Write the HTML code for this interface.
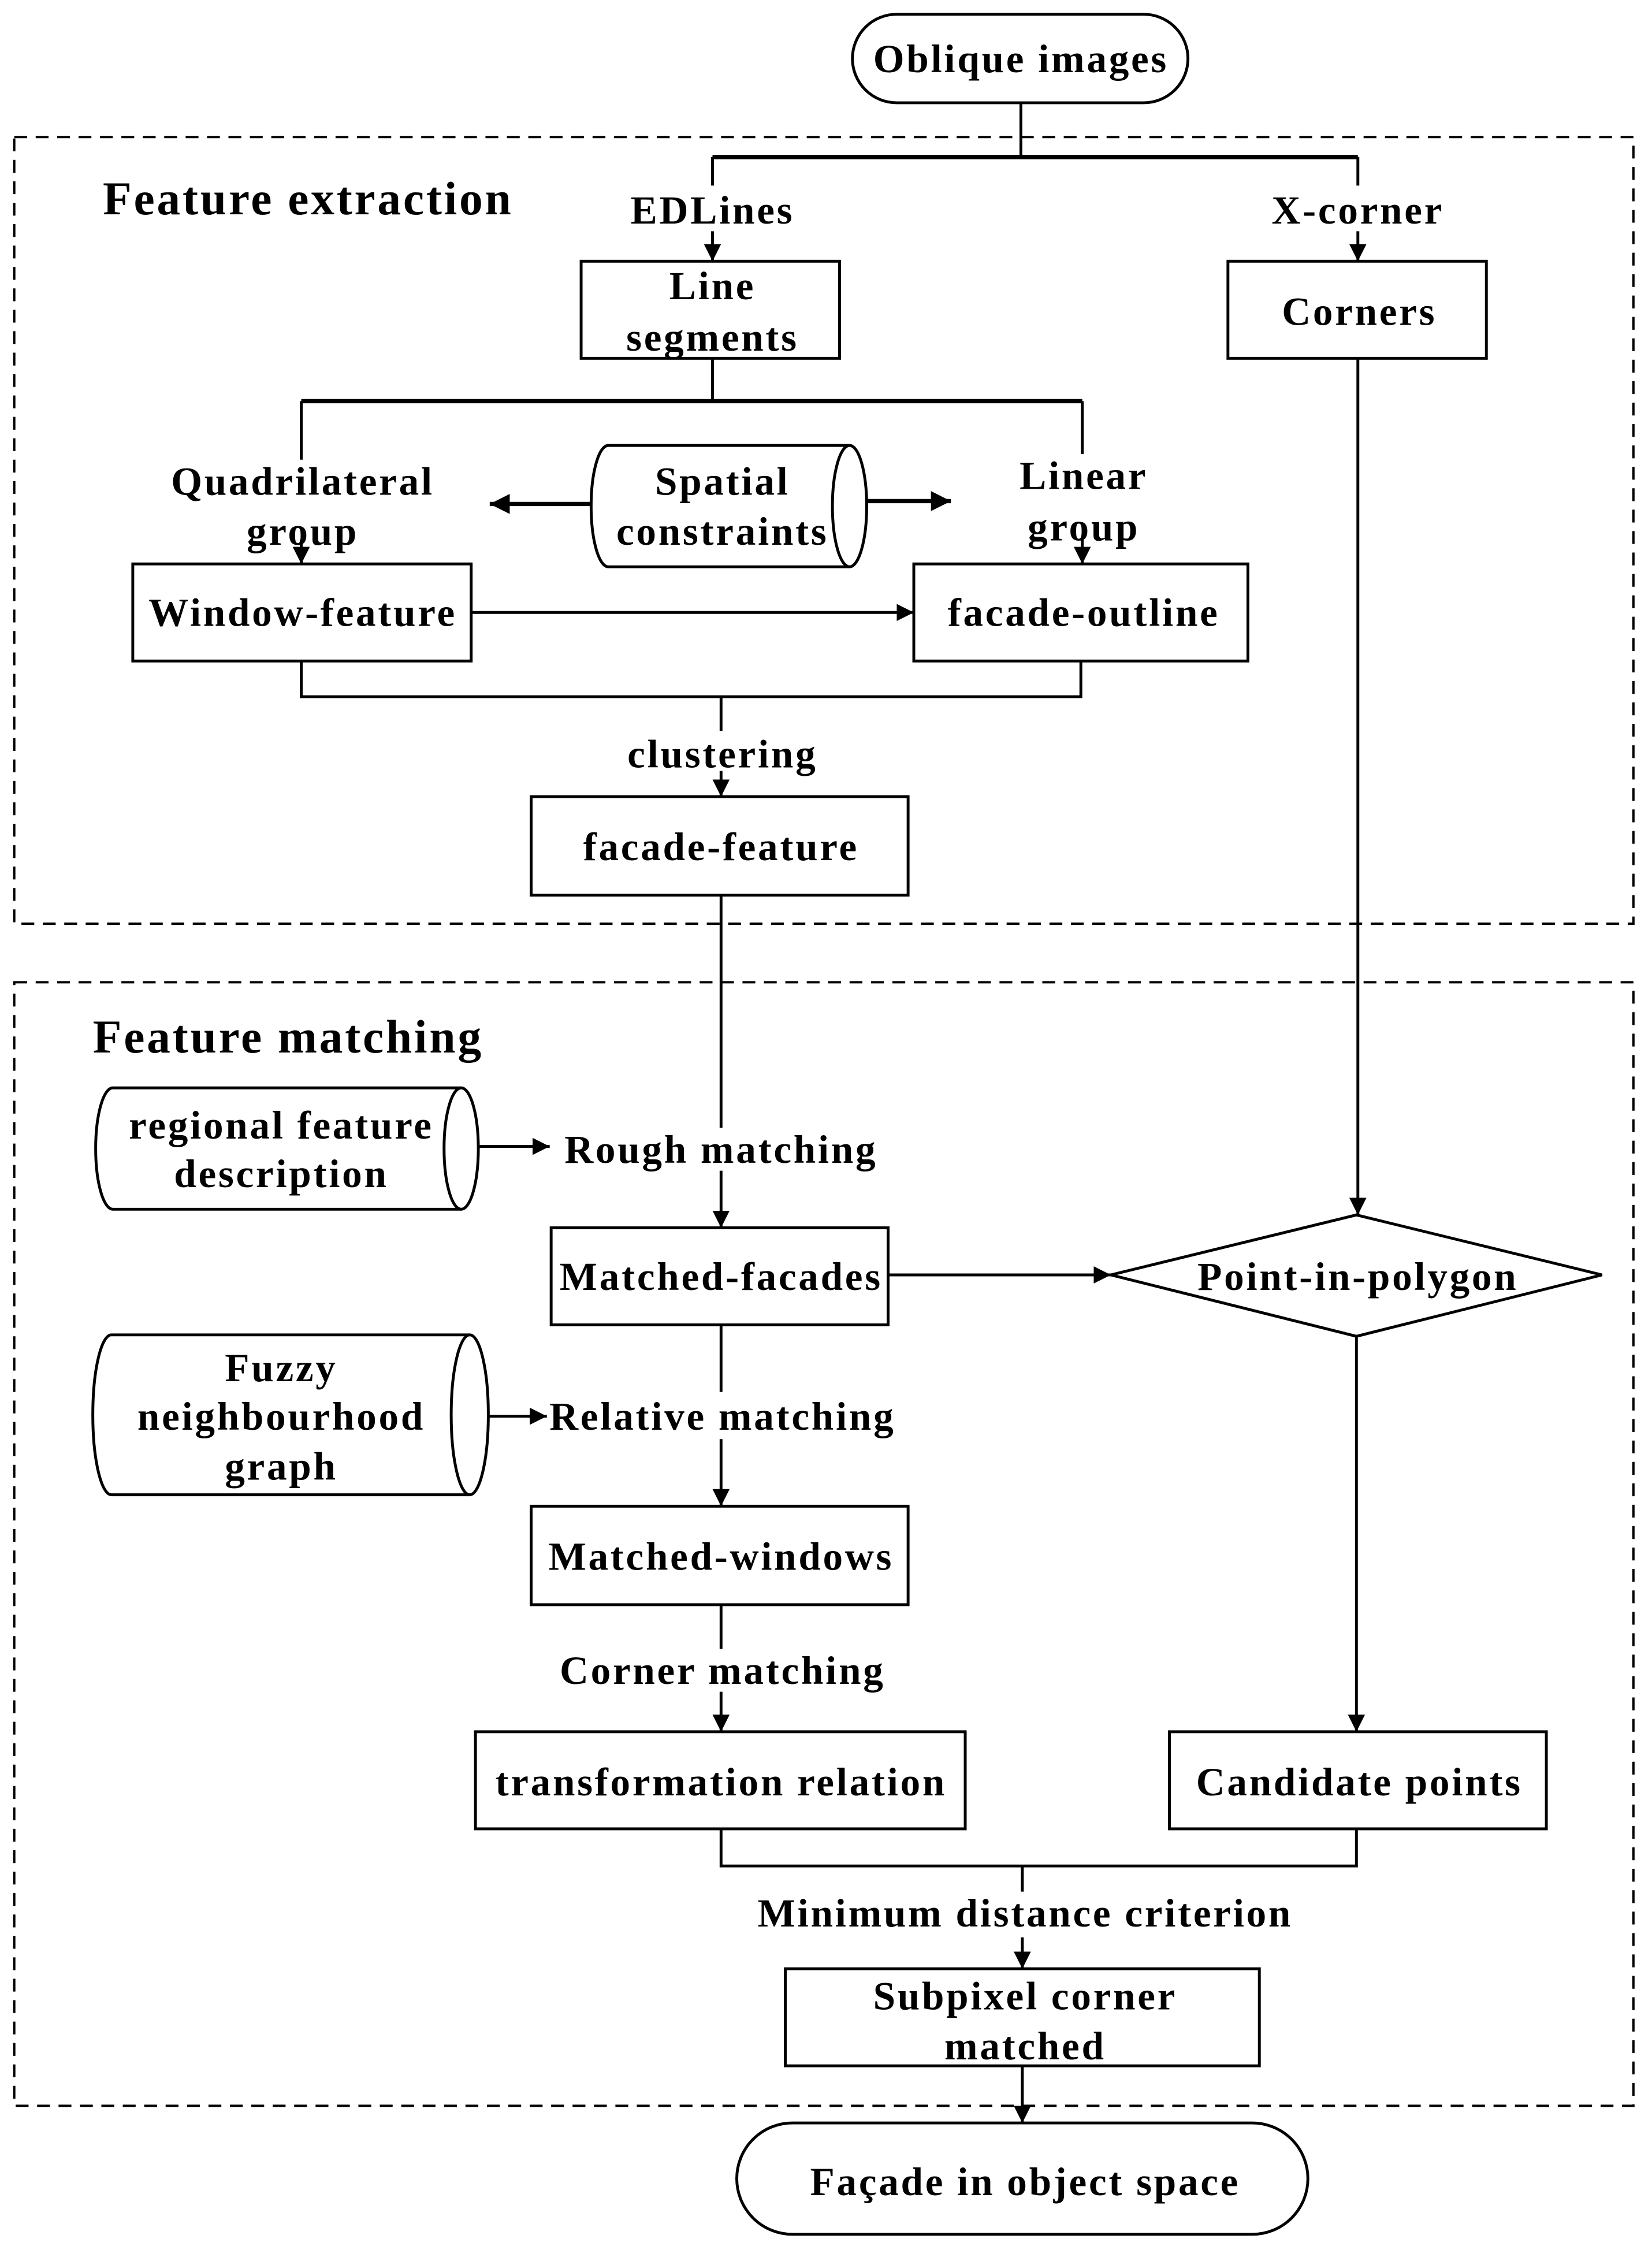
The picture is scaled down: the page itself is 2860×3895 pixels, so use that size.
<!DOCTYPE html>
<html><head><meta charset="utf-8"><style>
html,body{margin:0;padding:0;background:#fff;}
svg{display:block;}
text{font-family:"Liberation Serif",serif;font-weight:bold;font-size:28px;letter-spacing:1.5px;fill:#000;text-anchor:middle;dominant-baseline:central;}
</style></head><body>
<svg width="2860" height="3895" viewBox="0 0 1157 1576" preserveAspectRatio="none" xmlns="http://www.w3.org/2000/svg">
<defs>
<marker id="a" viewBox="0 0 10 10" refX="10" refY="5" markerWidth="12" markerHeight="12" markerUnits="userSpaceOnUse" orient="auto"><path d="M0,0 L10,5 L0,10 z" fill="#000"/></marker>
<marker id="b" viewBox="0 0 10 10" refX="10" refY="5" markerWidth="14" markerHeight="14" markerUnits="userSpaceOnUse" orient="auto"><path d="M0,0 L10,5 L0,10 z" fill="#000"/></marker>
</defs>
<g fill="none" stroke="#000" stroke-width="2">
<rect x="10" y="96" width="1134" height="551" stroke-dasharray="9,6" stroke-width="1.6"/>
<rect x="10" y="688" width="1134" height="787" stroke-dasharray="9,6" stroke-width="1.6"/>
<rect x="597" y="10" width="235" height="62" rx="31"/>
<rect x="516" y="1487" width="400" height="78" rx="39"/>
<rect x="407" y="183" width="181" height="68"/>
<rect x="860" y="183" width="181" height="68"/>
<rect x="93" y="395" width="237" height="68"/>
<rect x="640" y="395" width="234" height="68"/>
<rect x="372" y="558" width="264" height="69"/>
<rect x="386" y="860" width="236" height="68"/>
<rect x="372" y="1055" width="264" height="69"/>
<rect x="333" y="1213" width="343" height="68"/>
<rect x="819" y="1213" width="264" height="68"/>
<rect x="550" y="1379" width="332" height="68"/>
<path d="M778,893 L950,851 L1122,893 L950,936 Z"/>
<path d="M426,312 L595,312 A12,42.5 0 0 1 595,397 L426,397 A12,42.5 0 0 1 426,312 Z"/>
<path d="M595,312 A12,42.5 0 0 0 595,397"/>
<path d="M79,762 L323,762 A12,42.5 0 0 1 323,847 L79,847 A12,42.5 0 0 1 79,762 Z"/>
<path d="M323,762 A12,42.5 0 0 0 323,847"/>
<path d="M78,935 L329,935 A13,56 0 0 1 329,1047 L78,1047 A13,56 0 0 1 78,935 Z"/>
<path d="M329,935 A13,56 0 0 0 329,1047"/>
<path d="M715,72 V110"/>
<path d="M499,110 H951" stroke-width="3"/>
<path d="M499,110 V130 M951,110 V130"/>
<path d="M499,162 V183" marker-end="url(#a)"/>
<path d="M951,162 V183" marker-end="url(#a)"/>
<path d="M499,251 V281"/>
<path d="M211,281 H758" stroke-width="3"/>
<path d="M211,281 V322 M758,281 V318"/>
<path d="M211,378 V395" marker-end="url(#a)"/>
<path d="M758,378 V395" marker-end="url(#a)"/>
<path d="M414,353 H343" stroke-width="3" marker-end="url(#b)"/>
<path d="M607,351 H666" stroke-width="3" marker-end="url(#b)"/>
<path d="M330,429 H640" marker-end="url(#a)"/>
<path d="M211,463 V488 H757 V463"/>
<path d="M505,488 V512"/>
<path d="M505,540 V558" marker-end="url(#a)"/>
<path d="M951,251 V851" marker-end="url(#a)"/>
<path d="M505,627 V790"/>
<path d="M505,820 V860" marker-end="url(#a)"/>
<path d="M335,803 H385" marker-end="url(#a)"/>
<path d="M622,893 H778" marker-end="url(#a)"/>
<path d="M505,928 V975"/>
<path d="M505,1008 V1055" marker-end="url(#a)"/>
<path d="M342,992 H383" marker-end="url(#a)"/>
<path d="M505,1124 V1155"/>
<path d="M505,1185 V1213" marker-end="url(#a)"/>
<path d="M950,936 V1213" marker-end="url(#a)"/>
<path d="M505,1281 V1307 H950 V1281"/>
<path d="M716,1307 V1325"/>
<path d="M716,1357 V1379" marker-end="url(#a)"/>
<path d="M716,1447 V1487" marker-end="url(#a)"/>
</g>
<text x="715" y="41">Oblique images</text>
<text x="72" y="139" style="text-anchor:start;font-size:33px">Feature extraction</text>
<text x="65" y="726" style="text-anchor:start;font-size:33px">Feature matching</text>
<text x="499" y="147">EDLines</text>
<text x="951" y="147">X-corner</text>
<text x="499" y="200">Line</text>
<text x="499" y="236">segments</text>
<text x="952" y="218">Corners</text>
<text x="212" y="337">Quadrilateral</text>
<text x="212" y="372">group</text>
<text x="759" y="333">Linear</text>
<text x="759" y="369">group</text>
<text x="506" y="337">Spatial</text>
<text x="506" y="372">constraints</text>
<text x="212" y="429">Window-feature</text>
<text x="759" y="429">facade-outline</text>
<text x="506" y="528">clustering</text>
<text x="505" y="593">facade-feature</text>
<text x="197" y="788">regional feature</text>
<text x="197" y="822">description</text>
<text x="505" y="805">Rough matching</text>
<text x="505" y="894">Matched-facades</text>
<text x="951" y="894">Point-in-polygon</text>
<text x="197" y="958">Fuzzy</text>
<text x="197" y="992">neighbourhood</text>
<text x="197" y="1027">graph</text>
<text x="506" y="992">Relative matching</text>
<text x="505" y="1090">Matched-windows</text>
<text x="506" y="1170">Corner matching</text>
<text x="505" y="1248">transformation relation</text>
<text x="952" y="1248">Candidate points</text>
<text x="718" y="1340">Minimum distance criterion</text>
<text x="718" y="1398">Subpixel corner</text>
<text x="718" y="1433">matched</text>
<text x="718" y="1528">Façade in object space</text>
</svg>
</body></html>
